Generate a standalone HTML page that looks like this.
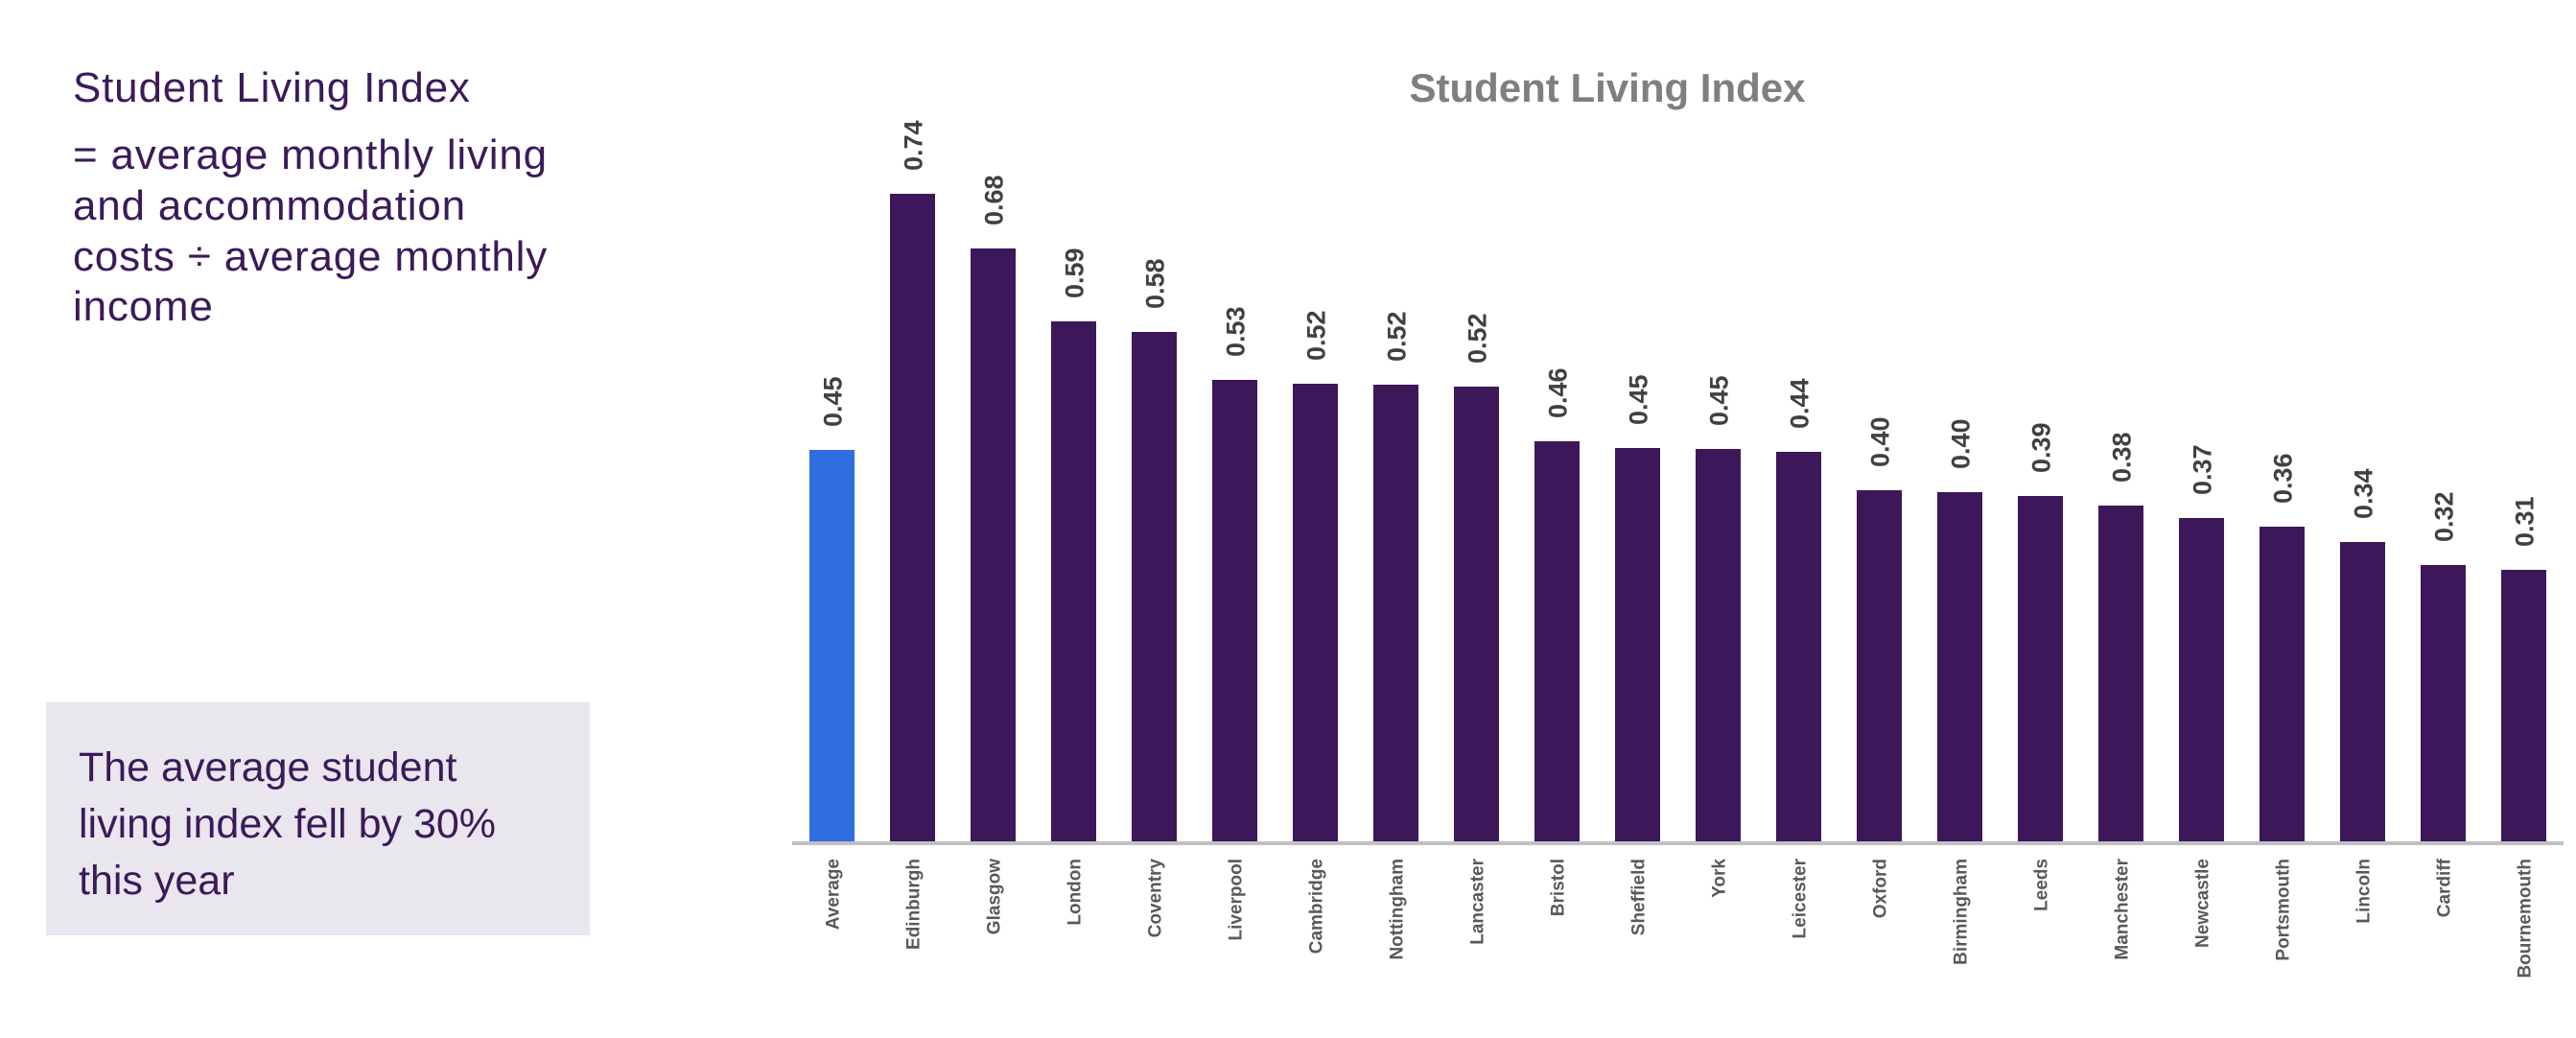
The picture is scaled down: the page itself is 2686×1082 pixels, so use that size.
<!DOCTYPE html>
<html><head><meta charset="utf-8"><style>
html,body{margin:0;padding:0;background:#fff;}
body{width:2686px;height:1082px;overflow:hidden;position:relative;}
svg{position:absolute;left:0;top:0;}
</style></head><body>
<svg width="2686" height="1082" viewBox="0 0 2686 1082" xmlns="http://www.w3.org/2000/svg">
<g font-family="Liberation Sans, sans-serif" fill="#3b1a5a" font-size="44" letter-spacing="0.8">
<text x="76" y="106">Student Living Index</text>
<text x="76" y="176">= average monthly living</text>
<text x="76" y="229">and accommodation</text>
<text x="76" y="282">costs ÷ average monthly</text>
<text x="76" y="334">income</text>
</g>
<rect x="48" y="732" width="567" height="243" fill="#e9e6ee"/>
<g font-family="Liberation Sans, sans-serif" fill="#3b1a5a" font-size="43">
<text x="82" y="814">The average student</text>
<text x="82" y="873">living index fell by 30%</text>
<text x="82" y="932">this year</text>
</g>
<text x="1676" y="106" text-anchor="middle" font-family="Liberation Sans, sans-serif" font-weight="bold" font-size="42" fill="#7f7f7f">Student Living Index</text>
<g id="bars"></g>
<rect x="826" y="877" width="1847" height="4" fill="#c0c0c0"/>
</svg>
<script>
var d=[["Average",469],["Edinburgh",202],["Glasgow",259],["London",335],["Coventry",346],["Liverpool",396],["Cambridge",400],["Nottingham",401],["Lancaster",403],["Bristol",460],["Sheffield",467],["York",468],["Leicester",471],["Oxford",511],["Birmingham",513],["Leeds",517],["Manchester",527],["Newcastle",540],["Portsmouth",549],["Lincoln",565],["Cardiff",589],["Bournemouth",594]];
var vals=["0.45","0.74","0.68","0.59","0.58","0.53","0.52","0.52","0.52","0.46","0.45","0.45","0.44","0.40","0.40","0.39","0.38","0.37","0.36","0.34","0.32","0.31"];
var g=document.getElementById('bars'),s='';
for(var i=0;i<d.length;i++){var x=844+i*84,cx=x+23.5,t=d[i][1];
s+='<rect x="'+x+'" y="'+t+'" width="47" height="'+(877-t)+'" fill="'+(i?'#3c1759':'#2f6de0')+'"/>';
s+='<text transform="translate('+(cx+10)+','+(t-24)+') rotate(-90)" font-family="Liberation Sans, sans-serif" font-weight="bold" font-size="27" fill="#404040">'+vals[i]+'</text>';
s+='<text transform="translate('+(cx+7)+',895) rotate(-90)" text-anchor="end" font-family="Liberation Sans, sans-serif" font-weight="bold" font-size="19" fill="#595959">'+d[i][0]+'</text>';}
g.innerHTML=s;
</script>
</body></html>
